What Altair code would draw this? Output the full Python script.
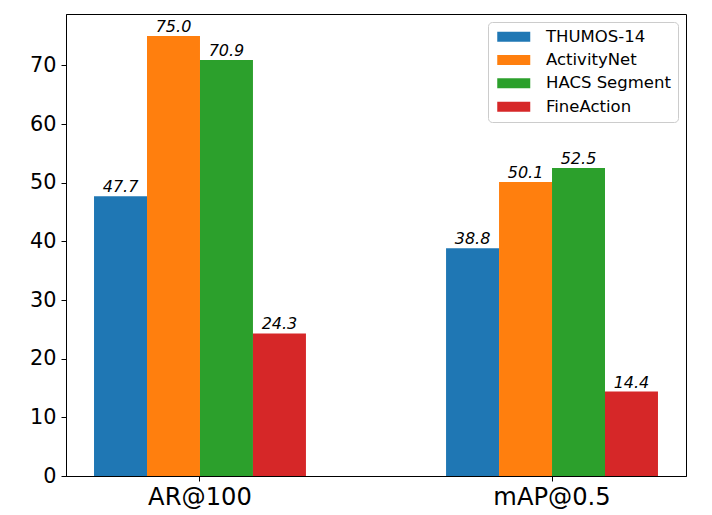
import altair as alt
import pandas as pd

metrics = ["AR@100", "mAP@0.5"]
datasets = ["THUMOS-14", "ActivityNet", "HACS Segment", "FineAction"]
colors = ["#1f77b4", "#ff7f0e", "#2ca02c", "#d62728"]
ar100 = [47.7, 75.0, 70.9, 24.3]
map05 = [38.8, 50.1, 52.5, 14.4]

rows = []
for m, vals in zip(metrics, [ar100, map05]):
    for d, v in zip(datasets, vals):
        rows.append({"metric": m, "dataset": d, "value": v})
df = pd.DataFrame(rows)

FONT = "DejaVu Sans"

x_enc = alt.X(
    "metric:N",
    sort=metrics,
    scale=alt.Scale(paddingInner=0.398, paddingOuter=0.0796),
    axis=alt.Axis(
        title=None, labelAngle=0, labelFontSize=24.2, labelFont=FONT,
        labelColor="black", domainColor="black", tickColor="black",
        tickSize=5, labelPadding=4, tickWidth=1, domainWidth=1,
    ),
)
xo_enc = alt.XOffset(
    "dataset:N", sort=datasets,
    scale=alt.Scale(paddingInner=0, paddingOuter=0),
)
y_enc = alt.Y(
    "value:Q",
    scale=alt.Scale(domain=[0, 78.75], nice=False),
    axis=alt.Axis(
        title=None, values=list(range(0, 80, 10)), grid=False,
        labelFontSize=20.8, labelFont=FONT, labelColor="black",
        domainColor="black", tickColor="black", tickSize=5, labelPadding=5,
    ),
)

bars = alt.Chart(df).mark_bar().encode(
    x=x_enc,
    xOffset=xo_enc,
    y=y_enc,
    color=alt.Color(
        "dataset:N",
        sort=datasets,
        scale=alt.Scale(domain=datasets, range=colors),
        legend=alt.Legend(
            title=None, orient="top-right", offset=8,
            labelFont=FONT, labelFontSize=16.5, labelColor="black",
            symbolType="M-3.3,-1L3.3,-1L3.3,1L-3.3,1Z",
            symbolSize=100, symbolStrokeWidth=0, symbolOffset=11,
            rowPadding=6.3, labelOffset=24,
            strokeColor="#cccccc", cornerRadius=4, padding=6.5,
            fillColor="white",
        ),
    ),
)

labels = alt.Chart(df).mark_text(
    fontStyle="italic", fontSize=16, font=FONT, baseline="bottom",
    dy=-1, color="black",
).encode(
    x=alt.X("metric:N", sort=metrics),
    xOffset=alt.XOffset("dataset:N", sort=datasets),
    y="value:Q",
    text=alt.Text("value:Q", format=".1f"),
)

chart = (
    alt.layer(bars, labels)
    .properties(
        width=620, height=462,
        padding={"left": 21, "top": 6, "right": 5, "bottom": 5},
    )
    .configure_view(stroke="black", strokeWidth=1)
)

chart.save("out.html", embed_options={"renderer": "svg", "actions": False})
